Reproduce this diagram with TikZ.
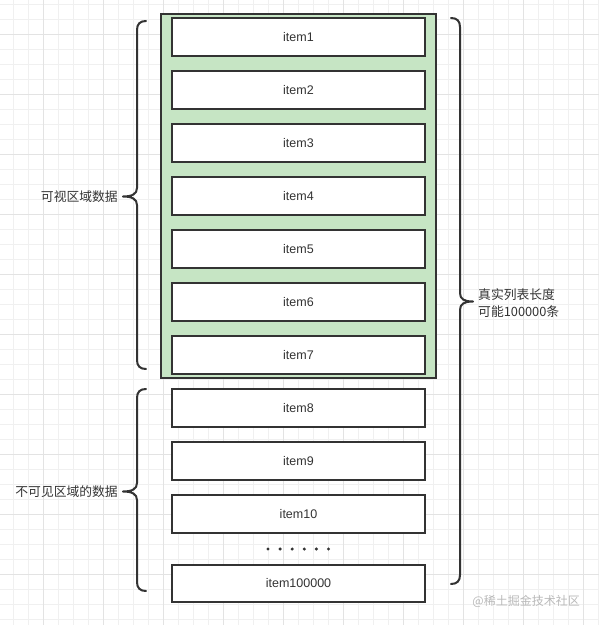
\documentclass[tikz,border=0pt]{standalone}
\usepackage{fontspec}
\setmainfont{Liberation Sans}
\newfontfamily\cjk{Noto Sans CJK SC}
\definecolor{linegray}{HTML}{333333}
\definecolor{visgreen}{HTML}{C6E5C4}
\definecolor{gridminor}{HTML}{F0F0F0}
\definecolor{gridmajor}{HTML}{E3E3E3}
\tikzset{
  itembox/.style={draw=linegray, line width=2pt, fill=white, minimum width=253pt,
    minimum height=37.5pt, inner sep=0pt, text=linegray, font=\fontsize{12.5}{14}\selectfont},
  viewbox/.style={draw=linegray, line width=2pt, fill=visgreen, minimum width=275pt,
    minimum height=364pt, inner sep=0pt},
  brace/.style={draw=linegray, line width=2pt, line cap=round, line join=round},
  note/.style={text=linegray, inner sep=0pt, font=\cjk\fontsize{12.8}{17}\selectfont}
}
\begin{document}
\begin{tikzpicture}[x=1pt,y=-1pt,>=stealth]
    \useasboundingbox (0,0) rectangle (599,625);
    % mřížka
    \foreach \gx in {13,28,...,598} \draw[gridminor, line width=1pt] (\gx,0) -- (\gx,625);
    \foreach \gy in {4,19,...,619} \draw[gridminor, line width=1pt] (0,\gy) -- (599,\gy);
    \foreach \gx in {43,103,...,583} \draw[gridmajor, line width=1pt] (\gx,0) -- (\gx,625);
    \foreach \gy in {34,94,...,574} \draw[gridmajor, line width=1pt] (0,\gy) -- (599,\gy);

    % viditelná oblast
    \node[viewbox] (view) at (298.5,196) {};

    % položky
    \foreach \i in {1,...,10}
        \node[itembox] (item\i) at (298.5,{36.75+53*(\i-1)}) {item\i};
    \foreach \k in {0,...,5}
        \fill[linegray] ({268+12.1*\k},549) circle (1.7pt);
    \node[itembox] (itemlast) at (298.5,583.5) {item100000};

    % závorky
    \draw[brace] (146,21) .. controls (140,21) and (137,24) .. (137,30) -- (137,188)
        .. controls (137,194) and (132,196.5) .. (123,196.5)
        .. controls (132,196.5) and (137,199) .. (137,205) -- (137,360)
        .. controls (137,366) and (140,369) .. (146,369);
    \draw[brace] (146,389) .. controls (140,389) and (137,392) .. (137,398) -- (137,483)
        .. controls (137,489) and (132,491.5) .. (123,491.5)
        .. controls (132,491.5) and (137,494) .. (137,500) -- (137,582)
        .. controls (137,588) and (140,591) .. (146,591);
    \draw[brace] (451,18) .. controls (457,18) and (460,21) .. (460,27) -- (460,293)
        .. controls (460,299) and (464,301.5) .. (473,301.5)
        .. controls (464,301.5) and (460,304) .. (460,310) -- (460,575)
        .. controls (460,581) and (457,584) .. (451,584);

    % popisky
    \node[note, anchor=east] (visnote) at (118,196.5) {可视区域数据};
    \node[note, anchor=east] (hidnote) at (118,491.5) {不可见区域的数据};
    \node[note, anchor=west, align=left] (totnote) at (478,303) {真实列表长度\\可能100000条};
    \node[note, anchor=east, text=gray!55, font=\cjk\fontsize{12}{14}\selectfont] (mark) at (580,601) {@稀土掘金技术社区};
\end{tikzpicture}
\end{document}
